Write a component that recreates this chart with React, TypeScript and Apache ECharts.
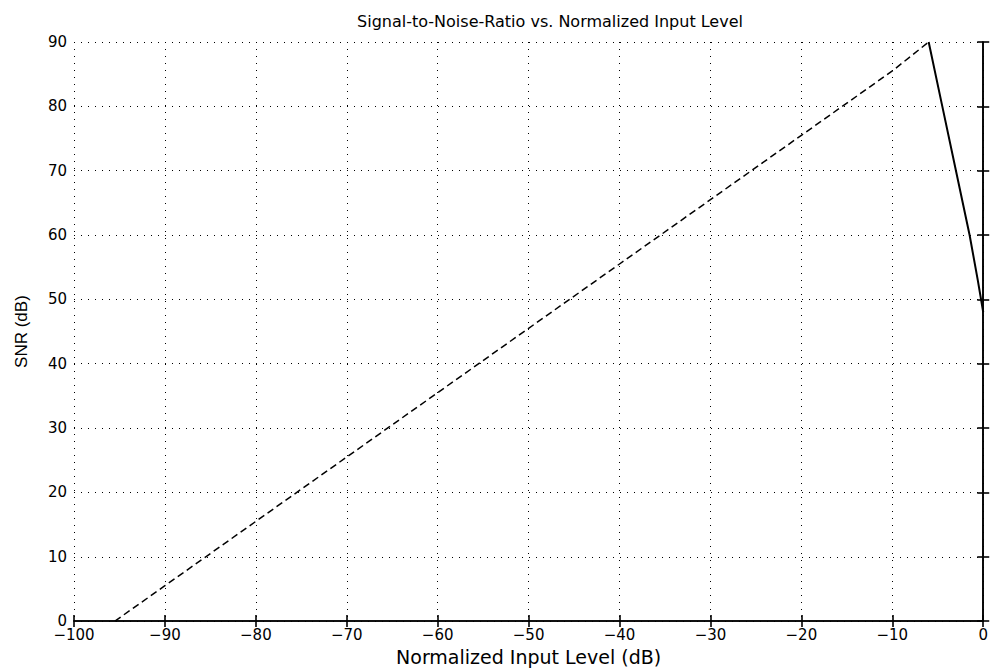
import React, { useEffect, useRef } from "react";
import * as echarts from "echarts";

const xTicks = [-100, -90, -80, -70, -60, -50, -40, -30, -20, -10, 0];
const yTicks = [0, 10, 20, 30, 40, 50, 60, 70, 80, 90];

// rising (dashed) part: [input level dB, SNR dB]
const risingX = [-95.5, -90, -80, -70, -60, -50, -40, -30, -20, -10, -6];
const risingY = [0, 5.5, 15.5, 25.5, 35.5, 45.5, 55.5, 65.5, 75.5, 85.5, 90];

// falling (solid) part near full scale
const fallingX = [-6, -4.5, -3, -1.5, -0.6, 0];
const fallingY = [90, 80, 70, 60, 53, 48];

const titleText = "Signal-to-Noise-Ratio vs. Normalized Input Level";
const xName = "Normalized Input Level (dB)";
const yName = "SNR (dB)";

const WIDE = "DejaVu Sans, Verdana, sans-serif";
const NARROW = "Liberation Sans, Arial, sans-serif";

export default function App() {
  const ref = useRef<HTMLDivElement>(null);
  useEffect(() => {
    document.body.style.margin = "0";
    const chart = echarts.init(ref.current!, null, { renderer: "svg" });
    const fmt = (v: number) => String(v).replace("-", "\u2212");
    const lineStyle = { color: "#000", width: 1.6 };
    chart.setOption({
      animation: false,
      backgroundColor: "#fff",
      title: {
        text: titleText,
        left: 545,
        top: 8,
        textAlign: "center",
        textStyle: { fontFamily: WIDE, fontSize: 16, fontWeight: "normal", color: "#000" },
      },
      grid: { left: 74, right: 4, top: 42, bottom: 39, containLabel: false },
      xAxis: [
        {
          type: "value",
          min: xTicks[0],
          max: xTicks[xTicks.length - 1],
          interval: 10,
          name: xName,
          nameLocation: "middle",
          nameGap: 17,
          nameTextStyle: { fontFamily: WIDE, fontSize: 19, color: "#000" },
          axisLine: { show: true, lineStyle },
          axisTick: { show: true, inside: true, length: 6, lineStyle },
          axisLabel: { formatter: fmt, fontFamily: WIDE, fontSize: 15, color: "#000", margin: 6 },
          splitLine: { show: true, lineStyle: { color: "#000", type: [1, 6], width: 1 } },
        },
        {
          type: "value",
          position: "top",
          min: xTicks[0],
          max: xTicks[xTicks.length - 1],
          interval: 10,
          axisLine: { show: true, lineStyle },
          axisTick: { show: true, inside: true, length: 6, lineStyle },
          axisLabel: { show: false },
          splitLine: { show: false },
        },
      ],
      yAxis: [
        {
          type: "value",
          min: yTicks[0],
          max: yTicks[yTicks.length - 1],
          interval: 10,
          name: yName,
          nameLocation: "middle",
          nameGap: 44,
          nameRotate: 90,
          nameTextStyle: { fontFamily: NARROW, fontSize: 17, color: "#000" },
          axisLine: { show: true, lineStyle },
          axisTick: { show: true, inside: true, length: 6, lineStyle },
          axisLabel: { formatter: fmt, fontFamily: WIDE, fontSize: 15, color: "#000", margin: 7 },
          splitLine: { show: true, lineStyle: { color: "#000", type: [1, 6], width: 1 } },
        },
        {
          type: "value",
          position: "right",
          min: yTicks[0],
          max: yTicks[yTicks.length - 1],
          interval: 10,
          axisLine: { show: true, lineStyle },
          axisTick: { show: true, inside: true, length: 6, lineStyle },
          axisLabel: { show: false },
          splitLine: { show: false },
        },
      ],
      series: [
        {
          type: "line",
          data: risingX.map((x, i) => [x, risingY[i]]),
          showSymbol: false,
          lineStyle: { color: "#000", width: 1.5, type: [7, 4] },
        },
        {
          type: "line",
          data: fallingX.map((x, i) => [x, fallingY[i]]),
          showSymbol: false,
          lineStyle: { color: "#000", width: 2 },
        },
      ],
    });
    return () => chart.dispose();
  }, []);
  return <div ref={ref} style={{ width: 991, height: 671 }} />;
}
